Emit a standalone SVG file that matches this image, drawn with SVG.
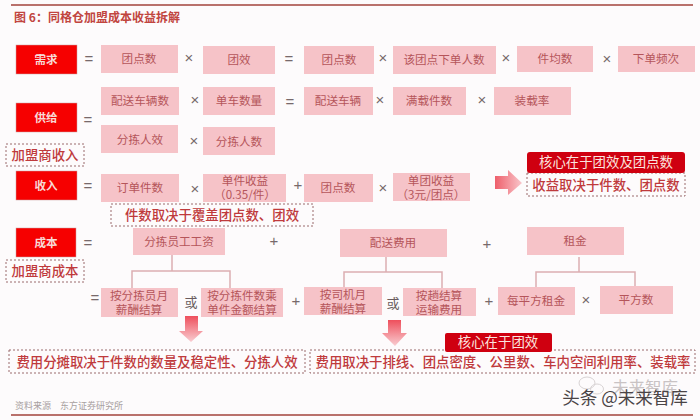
<svg xmlns="http://www.w3.org/2000/svg" width="700" height="420" viewBox="0 0 700 420">
<defs>
<linearGradient id="gr" x1="0" x2="1" y1="0" y2="0"><stop offset="0" stop-color="#ee5f6b"/><stop offset="1" stop-color="#f9c6cb"/></linearGradient>
<linearGradient id="gd" x1="0" x2="0" y1="0" y2="1"><stop offset="0" stop-color="#ee4f5c"/><stop offset="1" stop-color="#f9cdd1"/></linearGradient>
</defs>
<style>
text{font-family:"Noto Sans CJK SC","Liberation Sans",sans-serif;text-anchor:middle}
.head rect{fill:#f60000;stroke:#c9a0a0;stroke-width:.5}
.head text{fill:#f8d9d6;font-size:11.6px;font-weight:700}
.box rect{fill:#f6c3c8}
.box text{fill:#b5555a;font-size:11.6px}
.dash rect{fill:none;stroke:#9a6a6c;stroke-width:1;stroke-dasharray:2 2}
.dash text{fill:#bf3a3c;font-size:13.4px;font-weight:500}
.core rect{fill:#cf0010}
.core text{fill:#fbe3df;font-size:13.4px}
.op{fill:#77696b;font-size:15px;font-family:"Liberation Sans",sans-serif}
.or{fill:#6a5c5e;font-size:13px}
.line{fill:none;stroke:#dcaeb1;stroke-width:1.5}
.rule{stroke:#b9716c;stroke-width:2}
</style>
<rect width="700" height="420" fill="#fdfbfc"/>
<line class="rule" x1="11" y1="5" x2="693" y2="5"/>
<line class="rule" x1="11" y1="415" x2="693" y2="415"/>
<text x="97" y="22" style="font-size:12px;font-weight:700;fill:#c1453f">图 6：同格仓加盟成本收益拆解</text>
<text x="69" y="409" style="font-size:9px;fill:#a8a0a0">资料来源　东方证券研究所</text>

<g id="connectors">
<path class="line" d="M172 255V271M132 288V271H230V288"/>
<path class="line" d="M386 257V272M344 288V272H442V288"/>
<path class="line" d="M579 257V272M536 287V272H635V287"/>
<path d="M495 176H508V170L522 183L508 195V189H495Z" fill="url(#gr)"/>
<path d="M185 316H198V331H203L191 342L179 331H185Z" fill="url(#gd)"/>
<path d="M388 320H401V333H407L395 346L382 333H388Z" fill="url(#gd)"/>
</g>

<g id="operators">
<text class="op" x="89" y="64">=</text><text class="op" x="189" y="63">×</text><text class="op" x="289" y="64">=</text>
<text class="op" x="383" y="63">×</text><text class="op" x="506" y="63">×</text><text class="op" x="607" y="64">×</text>
<text class="op" x="195" y="105">×</text><text class="op" x="290" y="107">=</text><text class="op" x="380" y="105">×</text><text class="op" x="482" y="105">×</text>
<text class="op" x="88" y="125">=</text><text class="op" x="194" y="146">×</text>
<text class="op" x="88" y="191">=</text><text class="op" x="195" y="194">×</text><text class="op" x="298" y="190">+</text><text class="op" x="383" y="193">×</text>
<text class="op" x="88" y="248">=</text><text class="op" x="274" y="246">+</text><text class="op" x="487" y="249">+</text>
<text class="op" x="95" y="303">=</text><text class="op" x="296" y="306">+</text><text class="op" x="489" y="306">+</text><text class="op" x="586" y="305">×</text>
<text class="or" x="191" y="307">或</text><text class="or" x="393" y="308">或</text>
</g>

<g id="n-xuqiu" class="head"><rect x="16" y="45" width="61" height="29"/><text x="46" y="64">需求</text></g>
<g id="n-gongji" class="head"><rect x="16" y="103" width="61" height="29"/><text x="46" y="122">供给</text></g>
<g id="n-shouru" class="head"><rect x="16" y="171" width="61" height="29"/><text x="46" y="190">收入</text></g>
<g id="n-chengben" class="head"><rect x="16" y="228" width="60" height="29"/><text x="46" y="247">成本</text></g>

<g id="n1" class="box"><rect x="101" y="45" width="77" height="28"/><text x="139" y="63">团点数</text></g>
<g id="n2" class="box"><rect x="203" y="46" width="72" height="28"/><text x="239" y="64">团效</text></g>
<g id="n3" class="box"><rect x="304" y="46" width="70" height="28"/><text x="339" y="64">团点数</text></g>
<g id="n4" class="box"><rect x="393" y="46" width="103" height="28"/><text x="444" y="64">该团点下单人数</text></g>
<g id="n5" class="box"><rect x="517" y="46" width="76" height="26"/><text x="555" y="63">件均数</text></g>
<g id="n6" class="box"><rect x="618" y="46" width="77" height="26"/><text x="656" y="63">下单频次</text></g>
<g id="n7" class="box"><rect x="101" y="87" width="78" height="28"/><text x="140" y="105">配送车辆数</text></g>
<g id="n8" class="box"><rect x="203" y="87" width="72" height="28"/><text x="239" y="105">单车数量</text></g>
<g id="n9" class="box"><rect x="304" y="87" width="69" height="28"/><text x="338" y="105">配送车辆</text></g>
<g id="n10" class="box"><rect x="393" y="87" width="73" height="28"/><text x="429" y="105">满载件数</text></g>
<g id="n11" class="box"><rect x="494" y="87" width="77" height="28"/><text x="532" y="105">装载率</text></g>
<g id="n12" class="box"><rect x="101" y="125" width="77" height="28"/><text x="140" y="144">分拣人效</text></g>
<g id="n13" class="box"><rect x="203" y="127" width="72" height="28"/><text x="239" y="146">分拣人数</text></g>
<g id="n14" class="box"><rect x="101" y="174" width="78" height="28"/><text x="140" y="192">订单件数</text></g>
<g id="n15" class="box"><rect x="203" y="174" width="83" height="28"/><text x="245" y="185">单件收益</text><text x="245" y="199">（0.35/件）</text></g>
<g id="n16" class="box"><rect x="304" y="174" width="69" height="28"/><text x="338" y="192">团点数</text></g>
<g id="n17" class="box"><rect x="393" y="173" width="77" height="28"/><text x="431" y="185">单团收益</text><text x="431" y="199">（3元/团点）</text></g>
<g id="n18" class="box"><rect x="133" y="228" width="92" height="27"/><text x="179" y="246">分拣员工工资</text></g>
<g id="n19" class="box"><rect x="340" y="229" width="107" height="28"/><text x="393" y="247">配送费用</text></g>
<g id="n20" class="box"><rect x="527" y="227" width="97" height="28"/><text x="575" y="245">租金</text></g>
<g id="n21" class="box"><rect x="101" y="288" width="77" height="29"/><text x="139" y="300">按分拣员月</text><text x="139" y="314">薪酬结算</text></g>
<g id="n22" class="box"><rect x="201" y="288" width="82" height="29"/><text x="242" y="300">按分拣件数乘</text><text x="242" y="314">单件金额结算</text></g>
<g id="n23" class="box"><rect x="304" y="287" width="78" height="28"/><text x="343" y="299">按司机月</text><text x="343" y="313">薪酬结算</text></g>
<g id="n24" class="box"><rect x="403" y="288" width="73" height="28"/><text x="439" y="300">按趟结算</text><text x="439" y="314">运输费用</text></g>
<g id="n25" class="box"><rect x="498" y="287" width="77" height="28"/><text x="536" y="305">每平方租金</text></g>
<g id="n26" class="box"><rect x="600" y="286" width="73" height="28"/><text x="636" y="304">平方数</text></g>

<g id="d1" class="dash"><rect x="6" y="144" width="78" height="22"/><text x="45" y="160">加盟商收入</text></g>
<g id="d2" class="dash"><rect x="6" y="260" width="78" height="22"/><text x="45" y="276">加盟商成本</text></g>
<g id="d3" class="dash"><rect x="111" y="204" width="202" height="22"/><text x="212" y="220">件数取决于覆盖团点数、团效</text></g>
<g id="d4" class="dash"><rect x="527" y="173" width="158" height="23"/><text x="606" y="190">收益取决于件数、团点数</text></g>
<g id="d5" class="dash"><rect x="9" y="350" width="296" height="23"/><text x="157" y="367">费用分摊取决于件数的数量及稳定性、分拣人效</text></g>
<g id="d6" class="dash"><rect x="310" y="350" width="385" height="23"/><text x="503" y="367">费用取决于排线、团点密度、公里数、车内空间利用率、装载率</text></g>

<g id="c1" class="core"><rect x="527" y="152" width="158" height="21" rx="3"/><text x="606" y="167">核心在于团效及团点数</text></g>
<g id="c2" class="core"><rect x="445" y="333" width="107" height="19" rx="2"/><text x="498" y="347">核心在于团效</text></g>

<g id="watermark">
<ellipse cx="587" cy="383" rx="8" ry="6" fill="none" stroke="#d8d3d4"/>
<ellipse cx="597" cy="389" rx="6.5" ry="5" fill="none" stroke="#d8d3d4"/>
<text x="645" y="394" style="font-size:16.5px;fill:#c9c3c4">未来智库</text>
<text x="625" y="404" style="font-size:17.5px;fill:#4a4446">头条 @未来智库</text>
</g>
</svg>
